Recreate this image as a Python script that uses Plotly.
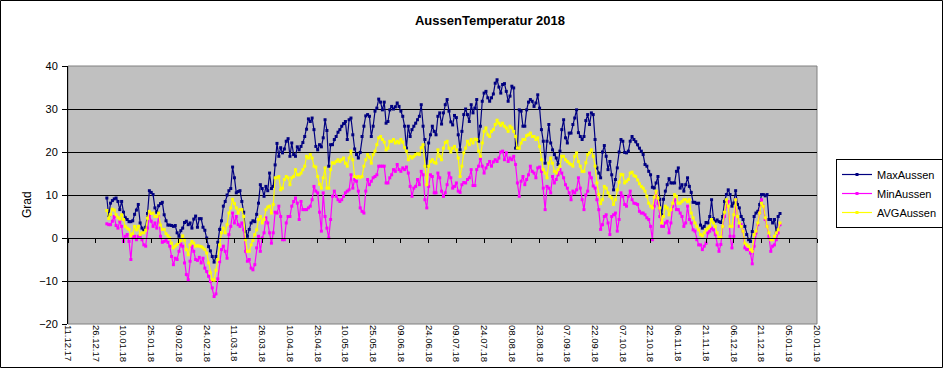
import pandas as pd
import plotly.graph_objects as go

# ---- data (daily values 2018) ----
start_date = "2018-01-01"
n_days = 365

max_aussen = [
    9.3, 5.2, 8.1, 8.7, 9.1, 9.3, 8.5, 6.6, 8.5, 6.0,
    4.7, 4.3, 3.8, 3.8, 4.0, 5.5, 6.5, 7.8, 3.5, 2.3,
    1.8, 2.5, 5.7, 11.0, 10.6, 10.1, 7.0, 6.0, 7.5, 8.0,
    8.3, 5.4, 4.0, 3.0, 3.0, 2.9, 2.7, 2.9, 1.2, 0.4,
    1.7, 2.3, 3.6, 3.9, 3.1, 3.5, 2.3, 4.4, 5.1, 2.5,
    4.5, 4.5, 2.5, 1.8, 0.0, -2.0, -3.0, -4.3, -5.6, -4.3,
    -1.0, 2.0, 4.0, 7.4, 8.5, 10.0, 11.0, 11.5, 16.5, 14.0,
    10.5, 10.8, 11.0, 8.5, 6.0, 1.5, 0.4, 2.0, 3.5, 4.0,
    3.8, 5.5, 8.1, 12.4, 11.5, 9.7, 12.0, 11.0, 15.1, 11.5,
    12.0, 17.0, 22.0, 19.0, 21.0, 19.8, 20.7, 22.5, 23.1, 19.0,
    22.1, 19.4, 19.0, 21.2, 20.5, 21.3, 22.2, 23.6, 25.3, 27.7,
    27.1, 27.9, 25.2, 21.3, 20.5, 21.7, 21.2, 23.3, 27.5, 25.0,
    16.7, 21.7, 21.7, 22.9, 23.6, 24.6, 25.2, 26.0, 26.6, 27.1,
    22.9, 27.5, 27.9, 24.0, 20.7, 19.4, 18.6, 19.9, 23.6, 26.0,
    28.4, 28.7, 28.3, 23.6, 26.0, 29.5, 30.2, 32.3, 31.6, 29.8,
    31.6, 26.7, 27.1, 29.8, 30.6, 30.0, 30.5, 31.4, 30.6, 29.5,
    28.3, 26.0, 20.9, 26.0, 23.6, 25.2, 26.0, 26.7, 27.5, 28.3,
    31.0, 26.0, 22.9, 16.7, 22.1, 24.0, 26.0, 24.8, 24.0, 28.3,
    29.1, 26.5, 29.1, 31.0, 32.2, 29.5, 27.0, 26.3, 28.5, 28.0,
    24.0, 20.5, 24.8, 28.7, 30.0, 28.7, 27.1, 31.0, 29.1, 30.2,
    32.2, 22.5, 26.0, 31.8, 33.7, 34.1, 32.6, 31.8, 32.6, 33.5,
    36.0, 36.8, 35.1, 33.7, 35.7, 35.9, 34.1, 31.8, 33.0, 35.3,
    34.9, 20.9, 20.9, 29.8, 29.5, 26.0, 26.0, 29.8, 31.6, 32.2,
    31.8, 30.6, 31.4, 33.3, 30.2, 25.2, 22.5, 17.4, 22.5, 26.4,
    22.1, 20.5, 19.4, 18.6, 17.1, 20.2, 25.2, 27.5, 23.3, 22.1,
    24.4, 24.4, 26.4, 27.9, 29.8, 24.5, 23.6, 22.9, 23.6, 27.3,
    28.7, 26.4, 29.1, 28.7, 22.9, 16.3, 15.1, 14.0, 20.0, 21.5,
    19.0, 15.9, 17.8, 14.7, 11.2, 13.6, 16.3, 20.0, 22.9, 22.5,
    19.9, 19.8, 20.2, 22.5, 23.6, 22.9, 22.4, 21.7, 20.9, 20.2,
    19.4, 17.1, 16.7, 15.5, 14.7, 11.8, 11.6, 12.8, 14.3, 9.0,
    5.4, 9.0, 10.9, 12.4, 13.8, 12.8, 12.8, 12.8, 15.5, 16.3,
    11.6, 12.4, 10.9, 12.4, 14.0, 12.0, 10.6, 8.3, 8.3, 8.0,
    8.1, 3.0, 2.3, 2.7, 3.6, 3.5, 5.0, 8.9, 4.5, 3.9,
    4.2, 3.8, 3.6, 5.0, 8.5, 10.1, 11.2, 10.1, 7.4, 8.1,
    11.0, 7.8, 7.0, 5.0, 4.3, 2.7, 0.8, -0.4, -0.8, 1.5,
    5.0, 5.8, 6.2, 7.8, 10.1, 10.1, 9.8, 10.1, 4.3, 4.3,
    3.5, 4.3, 1.2, 5.0, 5.7,
]

min_aussen = [
    3.3, 3.1, 3.1, 3.9, 5.0, 2.9, 2.3, 3.9, 2.7, -0.8,
    0.4, 0.8, -0.8, -5.0, 0.4, 0.4, -0.4, 0.4, 0.5, -0.4,
    -1.6, -1.9, 2.3, 5.4, 3.9, 2.7, 3.5, 2.3, 5.0, 0.4,
    -1.0, -0.8, -0.5, -1.0, -1.9, -4.3, -6.2, -4.7, -5.0, -3.1,
    -1.4, -1.9, -5.8, -8.5, -9.7, -5.4, -1.9, -3.1, -5.0, -5.2,
    -4.5, -5.8, -4.7, -7.0, -7.8, -8.9, -10.1, -11.6, -13.6, -13.0,
    -9.5, -5.5, -2.7, -1.9, -3.1, -4.7, 0.8, 2.7, 5.8, 3.5,
    5.0, 3.1, 2.7, 3.5, 1.9, -3.1, -5.4, -5.0, -7.0, -7.4,
    -6.2, -2.3, 0.4, -3.1, 0.0, 1.2, 4.7, 3.5, 1.2, -1.2,
    1.2, 6.0, 5.8, 7.4, 5.0, -0.4, -0.4, 3.5, 5.0, 5.0,
    7.4, 8.5, 9.3, 8.1, 4.3, 8.5, 6.6, 6.6, 6.6, 7.0,
    7.4, 8.9, 12.0, 10.9, 10.5, 6.0, 1.6, 10.5, 5.0, 2.3,
    0.0, 4.3, 9.7, 10.9, 9.7, 8.9, 8.5, 8.9, 9.7, 10.5,
    10.9, 11.2, 14.7, 11.6, 13.6, 13.2, 10.9, 7.0, 6.2, 5.8,
    10.9, 13.6, 12.4, 13.2, 14.0, 14.3, 14.7, 16.7, 16.7, 16.7,
    16.7, 12.8, 12.8, 14.0, 14.7, 15.9, 15.5, 17.1, 15.9, 15.5,
    16.3, 15.9, 16.5, 15.1, 12.0, 9.7, 11.6, 12.0, 13.6, 12.4,
    15.5, 14.7, 8.9, 7.0, 12.0, 14.7, 14.3, 10.5, 10.5, 15.1,
    14.0, 10.9, 9.7, 10.5, 12.4, 15.1, 14.0, 11.6, 12.0, 12.8,
    10.9, 10.6, 12.4, 12.9, 12.8, 13.6, 14.0, 15.9, 12.2, 12.2,
    15.9, 16.7, 18.4, 16.7, 15.1, 16.3, 17.1, 17.8, 16.7, 17.7,
    18.2, 17.8, 18.6, 20.0, 20.2, 18.2, 19.8, 17.8, 18.6, 18.2,
    19.0, 17.1, 12.8, 9.7, 13.2, 14.3, 12.4, 13.6, 14.7, 16.7,
    15.5, 15.1, 14.0, 16.3, 16.5, 15.5, 11.6, 6.6, 12.0, 11.6,
    10.5, 14.3, 12.8, 13.6, 14.7, 15.9, 15.1, 14.0, 12.4, 11.6,
    10.5, 8.9, 10.9, 10.5, 11.2, 14.0, 11.6, 8.9, 6.6, 10.0,
    10.9, 15.1, 14.0, 12.1, 11.6, 8.9, 6.6, 2.0, 3.1, 5.0,
    5.4, 3.5, 0.8, 5.0, 5.4, 5.8, 1.6, 4.3, 10.5, 9.7,
    7.8, 7.4, 9.7, 10.9, 8.9, 8.1, 8.0, 7.8, 6.2, 5.8,
    5.8, 5.4, 4.7, 4.3, 2.7, -0.4, 7.4, 10.5, 8.1, 5.0,
    2.7, 2.7, 3.5, 3.9, 1.2, 3.5, 7.4, 8.9, 6.6, 6.6,
    5.8, 5.0, 2.7, 3.5, 7.4, 4.3, 3.5, 1.9, 1.6, -0.4,
    -1.6, -1.6, -2.7, -1.9, -1.2, 1.2, 1.6, 2.3, 1.9, 0.8,
    -1.6, -3.1, -1.5, 2.7, 5.0, 7.4, 8.5, 0.4, -2.3, 0.4,
    8.9, 5.0, 2.7, 3.1, 1.6, -2.3, -2.7, -2.7, -3.5, -6.0,
    -1.9, 1.2, 3.1, 5.8, 8.9, 7.4, 4.3, 2.7, 0.4, -3.1,
    -1.9, -1.6, -0.4, 1.2, 3.1,
]

avg_aussen = [
    6.4, 4.5, 5.5, 6.7, 6.5, 5.4, 4.8, 4.4, 5.4, 4.3,
    2.7, 2.3, 2.0, 0.5, 1.0, 2.7, 1.9, 2.7, 0.8, 1.2,
    1.2, 1.8, 4.6, 6.2, 5.7, 5.8, 5.0, 5.0, 5.8, 3.0,
    2.0, 2.0, 1.0, 0.5, 0.0, -1.2, -2.3, -1.9, -1.5, -1.0,
    -0.6, 0.5, -0.5, -2.7, -3.9, -1.6, -0.8, -1.2, -1.9, -1.8,
    -1.9, -2.0, -2.3, -2.7, -3.5, -5.8, -8.1, -9.7, -9.8, -7.5,
    -5.0, -1.6, 1.2, 2.3, 1.2, 3.1, 5.8, 7.0, 9.0, 8.0,
    7.0, 5.8, 6.6, 6.6, 5.0, -0.4, -3.1, -3.1, -1.6, -0.6,
    0.8, 1.9, 4.3, 5.0, 3.5, 4.3, 6.6, 7.2, 7.4, 5.8,
    7.8, 14.0, 14.0, 14.3, 11.2, 11.6, 13.6, 14.3, 14.0, 12.4,
    14.0, 14.3, 15.9, 14.7, 14.7, 15.1, 15.9, 16.7, 19.0, 18.6,
    19.4, 18.6, 16.7, 16.5, 14.3, 12.5, 11.6, 14.0, 16.3, 11.6,
    11.6, 15.9, 17.5, 17.4, 17.8, 18.2, 17.8, 18.2, 18.6, 17.4,
    16.7, 18.6, 20.2, 18.2, 14.3, 14.1, 14.3, 14.1, 14.3, 16.7,
    18.2, 19.4, 18.8, 17.4, 19.4, 20.2, 21.7, 23.3, 23.6, 22.9,
    22.3, 20.5, 20.9, 22.5, 22.5, 22.9, 22.1, 22.5, 22.1, 22.9,
    22.3, 21.0, 20.2, 18.2, 19.0, 18.6, 19.0, 19.4, 19.6, 19.4,
    21.0, 21.7, 16.7, 12.4, 16.7, 17.8, 18.2, 17.6, 17.4, 20.5,
    19.0, 18.2, 20.9, 22.2, 22.5, 20.9, 20.0, 20.9, 21.3, 20.5,
    18.6, 14.3, 16.7, 19.8, 20.9, 22.5, 21.7, 22.9, 22.1, 23.0,
    22.9, 20.2, 19.0, 22.1, 24.8, 25.6, 24.0, 23.6, 24.8, 25.2,
    26.4, 27.4, 26.7, 26.2, 26.7, 26.0, 25.6, 24.8, 26.0, 25.6,
    24.8, 23.6, 20.9, 20.9, 22.1, 22.9, 22.9, 23.8, 24.0, 24.4,
    23.6, 23.6, 22.9, 23.3, 21.3, 18.2, 15.9, 15.1, 14.0, 17.4,
    18.6, 17.4, 15.5, 15.1, 15.9, 16.7, 19.0, 19.0, 18.2, 17.8,
    17.4, 17.1, 16.7, 19.0, 19.8, 17.8, 16.7, 15.5, 15.5, 17.5,
    19.4, 19.8, 20.5, 19.0, 16.7, 12.8, 10.1, 8.0, 8.9, 12.0,
    11.6, 10.5, 9.7, 9.3, 7.8, 8.9, 11.2, 13.0, 14.8, 14.7,
    12.8, 13.2, 13.6, 15.1, 15.3, 14.5, 14.3, 13.5, 12.6, 12.0,
    11.6, 10.9, 9.7, 8.1, 7.4, 7.0, 9.5, 10.9, 9.3, 7.0,
    3.5, 5.0, 7.4, 7.0, 5.4, 6.6, 8.1, 10.1, 9.7, 8.1,
    8.1, 8.5, 8.9, 8.9, 8.5, 8.9, 5.8, 4.7, 3.5, 2.7,
    1.9, 0.8, 0.5, 1.2, 1.9, 2.3, 2.7, 4.3, 3.5, 2.7,
    1.2, 0.0, 0.2, 2.7, 6.0, 8.9, 7.4, 2.7, 2.7, 5.4,
    8.9, 5.0, 3.5, 2.7, 1.6, -1.2, -1.6, -1.9, -2.7, -3.1,
    0.8, 1.6, 3.5, 5.8, 8.1, 7.4, 4.7, 2.7, 1.2, -0.4,
    -0.4, 0.4, 1.2, 1.9, 3.5,
]

tick_labels = [
    "11.12.17", "26.12.17", "10.01.18", "25.01.18", "09.02.18", "24.02.18",
    "11.03.18", "26.03.18", "10.04.18", "25.04.18", "10.05.18", "25.05.18",
    "09.06.18", "24.06.18", "09.07.18", "24.07.18", "08.08.18", "23.08.18",
    "07.09.18", "22.09.18", "07.10.18", "22.10.18", "06.11.18", "21.11.18",
    "06.12.18", "21.12.18", "05.01.19", "20.01.19",
]
y_ticks = [-20, -10, 0, 10, 20, 30, 40]

series_names = ["MaxAussen", "MinAussen", "AVGAussen"]
series_colors = ["#000080", "#FF00FF", "#FFFF00"]

# ---- figure ----
dates = pd.date_range(start_date, periods=n_days)
tick_vals = pd.to_datetime(tick_labels, format="%d.%m.%y")
x_range = [tick_vals[0], tick_vals[-1]]

W, H = 943, 368
L, R, T, B = 68, 126, 66, 44
pw, ph = W - L - R, H - T - B

fig = go.Figure()
for name, vals, col in zip(series_names, [max_aussen, min_aussen, avg_aussen], series_colors):
    fig.add_trace(go.Scatter(
        x=dates, y=vals, name=name, mode="lines+markers",
        line=dict(color=col, width=1.2),
        marker=dict(color=col, size=3, symbol="square"),
    ))

ymin, ymax = y_ticks[0], y_ticks[-1]
zero_pos = (0 - ymin) / (ymax - ymin)

font_family = "Liberation Sans, Arial, sans-serif"

fig.update_layout(
    width=W, height=H,
    margin=dict(l=L, r=R, t=T, b=B, autoexpand=False),
    paper_bgcolor="white",
    plot_bgcolor="#C0C0C0",
    font=dict(family=font_family, color="black"),
    title=dict(
        text="<b>AussenTemperatur 2018</b>",
        x=490 / W, xref="container", xanchor="center",
        y=1 - 20 / H, yref="container", yanchor="middle",
        font=dict(size=13, family=font_family, color="black"),
    ),
    showlegend=True,
    legend=dict(
        x=(836 - L) / pw, y=(H - B - 159) / ph, xanchor="left", yanchor="top",
        bgcolor="white", bordercolor="black", borderwidth=1,
        font=dict(size=11, family=font_family, color="black"),
        itemwidth=30, tracegroupgap=0,
    ),
    xaxis=dict(
        type="date", range=x_range,
        tickmode="array", tickvals=tick_vals, ticktext=tick_labels,
        tickangle=90, tickfont=dict(size=9.5, family=font_family, color="black"),
        ticks="", showgrid=False, zeroline=False, showline=False,
        automargin=False,
    ),
    xaxis2=dict(
        type="date", range=x_range, overlaying="x", anchor="free",
        position=zero_pos, side="bottom",
        tickmode="array", tickvals=tick_vals, showticklabels=False,
        ticks="outside", ticklen=4, tickcolor="black", tickwidth=1,
        showline=True, linecolor="black", linewidth=1,
        showgrid=False, zeroline=False, automargin=False,
    ),
    yaxis=dict(
        range=[ymin, ymax], tickmode="array", tickvals=y_ticks,
        tickfont=dict(size=11, family=font_family, color="black"),
        ticks="outside", ticklen=5, tickcolor="black",
        showline=True, linecolor="black", linewidth=1,
        showgrid=True, gridcolor="black", gridwidth=1,
        zeroline=False, automargin=False, ticklabelstandoff=2,
    ),
    shapes=[
        # plot-area border
        dict(type="rect", xref="paper", yref="paper", x0=0, x1=1, y0=0, y1=1,
             line=dict(color="#808080", width=1), layer="below"),
        # outer chart border
        dict(type="rect", xref="paper", yref="paper",
             x0=(0.5 - L) / pw, x1=(W - 0.5 - L) / pw,
             y0=(H - B - (H - 0.5)) / ph, y1=(H - B - 0.5) / ph,
             line=dict(color="black", width=1)),
    ],
    annotations=[
        dict(text="Grad", xref="paper", yref="paper",
             x=(27 - L) / pw, y=(H - B - 205) / ph, textangle=-90,
             showarrow=False, xanchor="center", yanchor="middle",
             font=dict(size=12, family=font_family, color="black")),
    ],
)

# invisible helper trace so the zero-line axis (x2) is rendered
fig.add_trace(go.Scatter(x=[dates[0]], y=[None], xaxis="x2", showlegend=False,
                         hoverinfo="skip", mode="lines"))

fig.write_html(
    "out.html",
    config={"displayModeBar": False},
    post_script="document.body.style.margin='0';document.body.style.padding='0';",
)
